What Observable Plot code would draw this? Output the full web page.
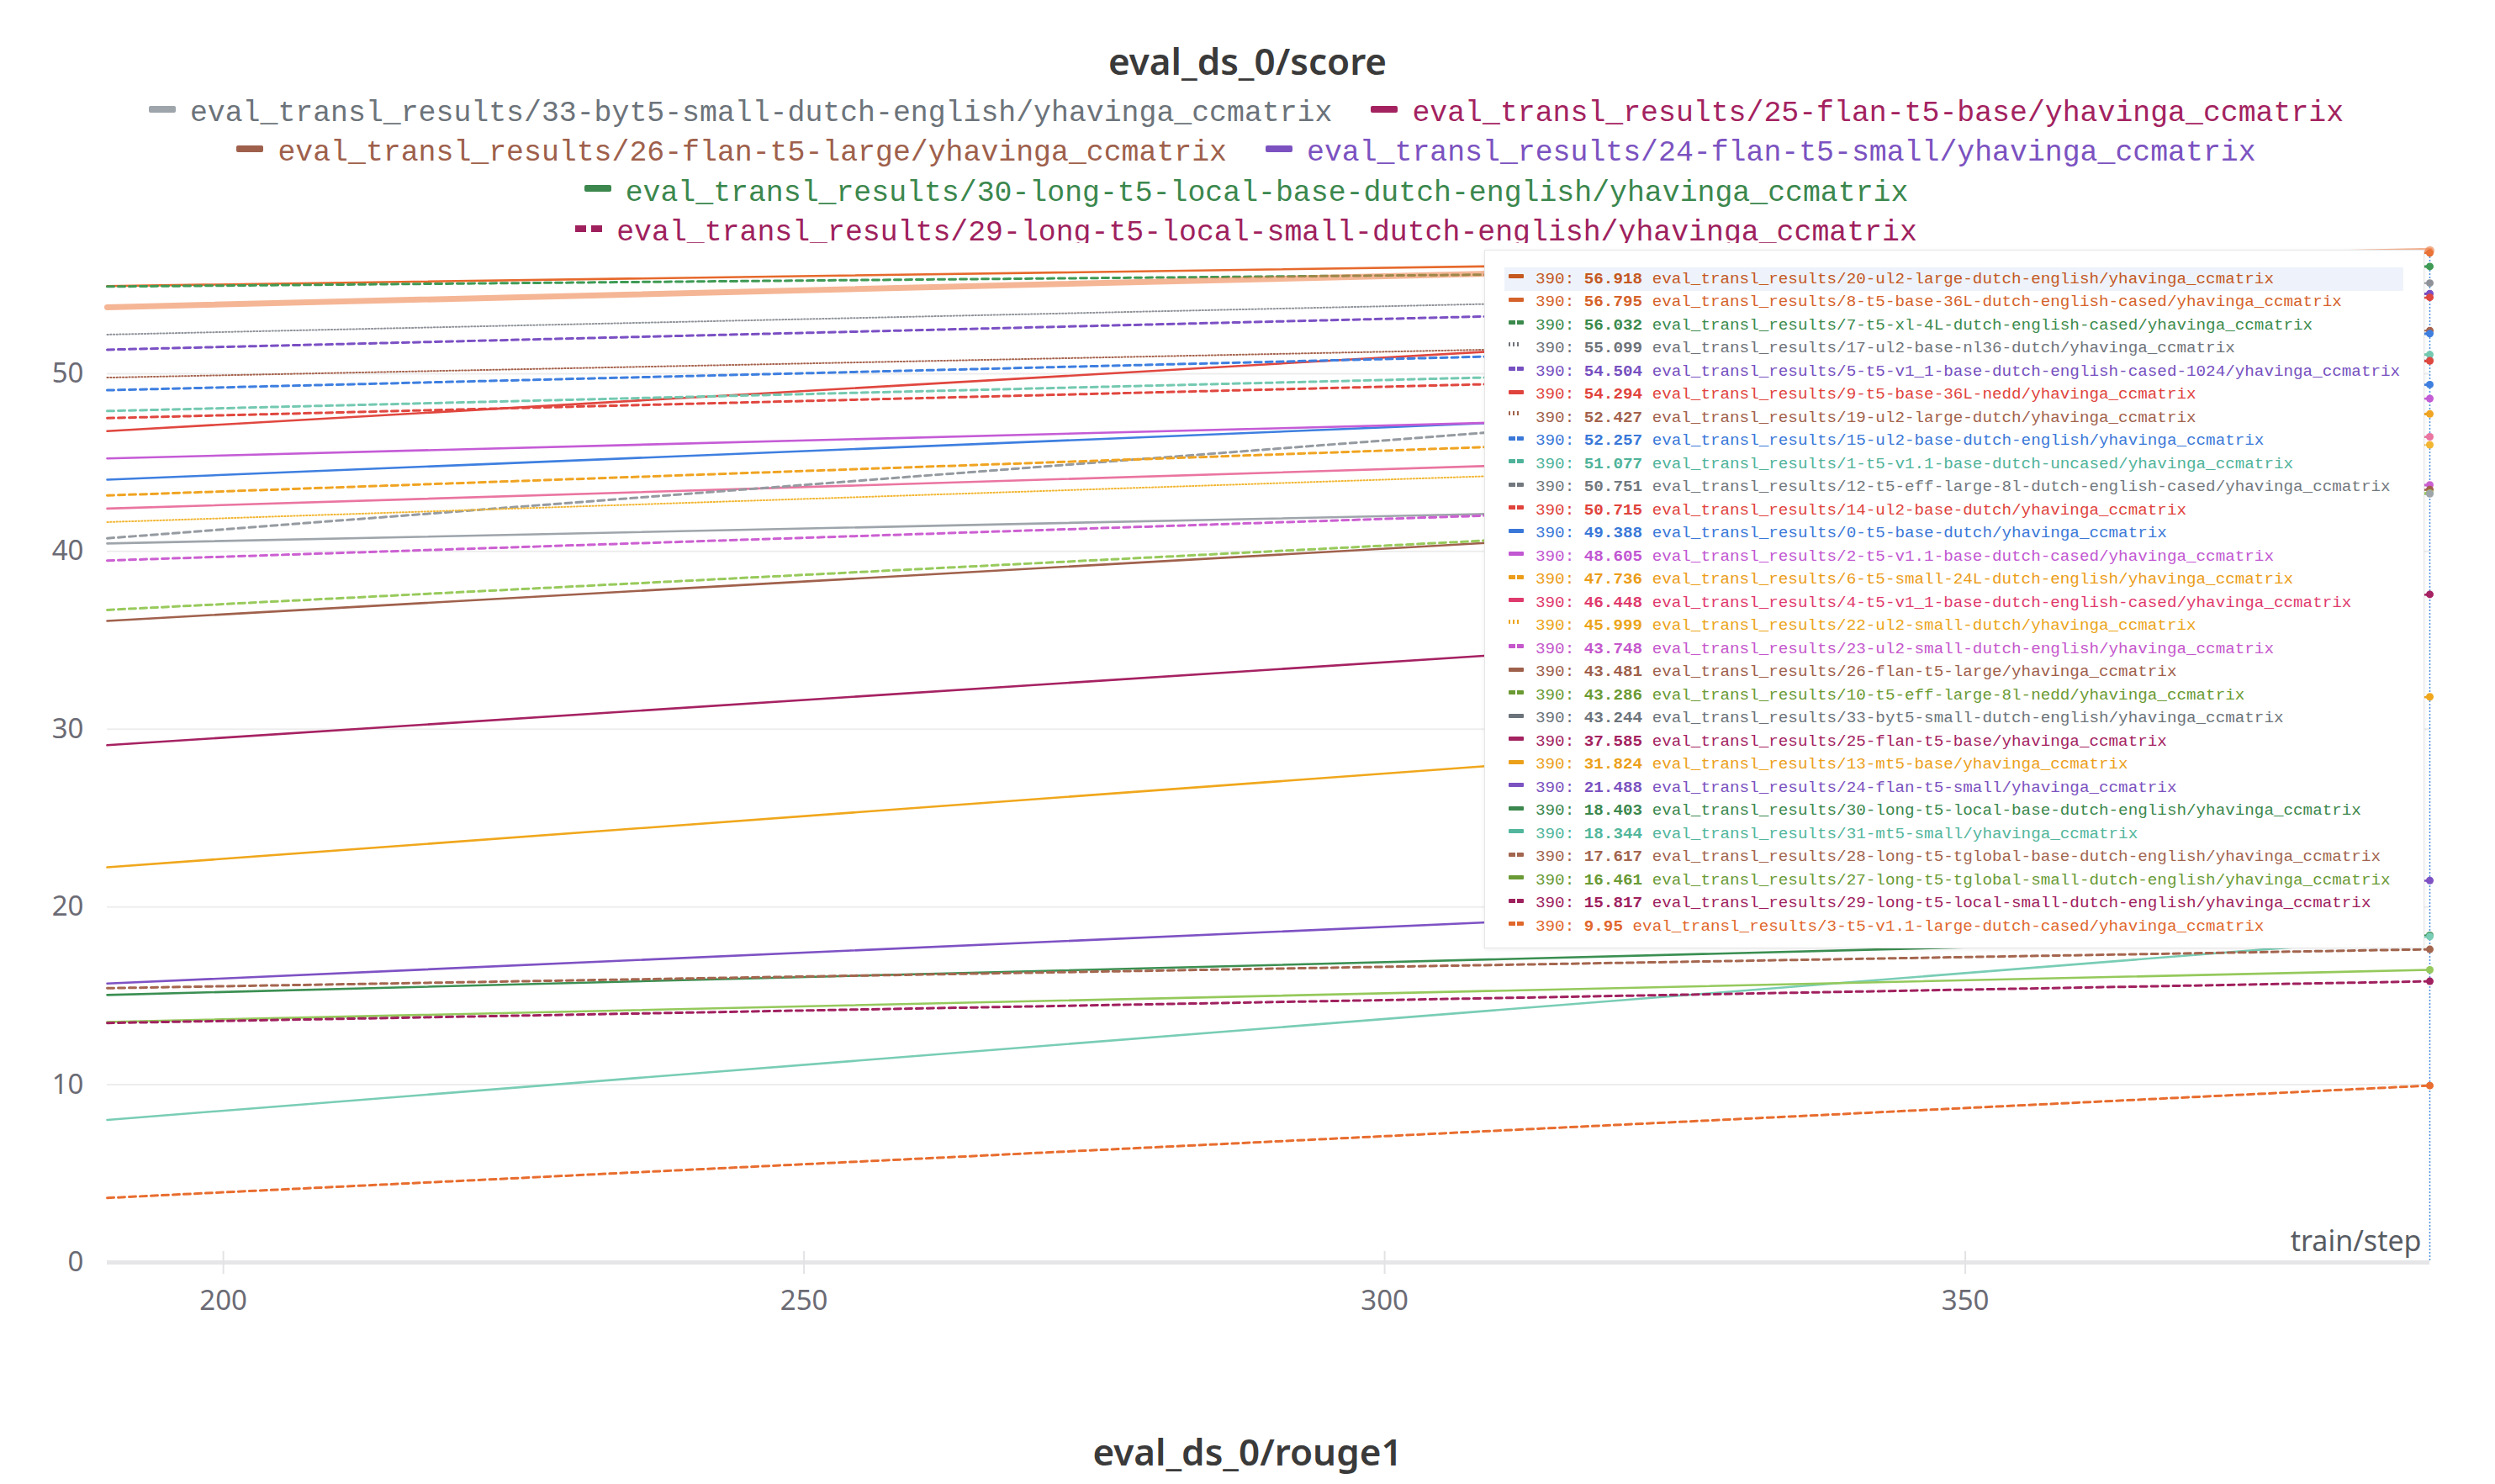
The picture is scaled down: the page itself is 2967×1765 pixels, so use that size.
<!DOCTYPE html>
<html>
<head>
<meta charset="utf-8">
<script src="https://cdn.jsdelivr.net/npm/d3@7"></script>
<script src="https://cdn.jsdelivr.net/npm/@observablehq/plot@0.6"></script>
<style>
html,body{margin:0;padding:0;background:#fff;}
#page{position:relative;width:2967px;height:1765px;overflow:hidden;background:#fff;}
.title{position:absolute;left:0;width:2967px;text-align:center;font-family:"Noto Sans",sans-serif;font-weight:600;font-size:44px;line-height:60px;color:#3a3a3a;}
#legend{position:absolute;left:5px;width:2954px;top:111px;height:178px;overflow:hidden;display:flex;flex-wrap:wrap;justify-content:center;align-content:flex-start;column-gap:46px;font-family:"Liberation Mono",monospace;font-size:34.85px;}
.item{display:flex;align-items:center;height:47.3px;white-space:nowrap;}
.mk{display:inline-block;width:32px;height:8px;border-radius:2px;margin-right:17px;position:relative;top:-5px;}
#chart{position:absolute;left:0;top:289px;}
#tip{position:absolute;left:1765px;top:297px;width:1118px;height:831px;background:#fff;border:1px solid #e6e6e6;box-sizing:border-box;box-shadow:0 1px 5px rgba(0,0,0,.07);font-family:"Liberation Mono",monospace;font-size:19.25px;padding-top:20px;}
.row{height:27.5px;display:flex;align-items:center;white-space:pre;margin-left:23px;margin-right:24px;padding-left:5px;}
.row span,.row b{white-space:pre;}
.row.hi{background:#eef3fb;}
.tm{display:inline-block;width:18px;height:5px;margin-right:14px;position:relative;top:-3px;border-radius:1px;}
.row b{font-weight:700;}
</style>
</head>
<body>
<div id="page">
  <div class="title" id="t1" style="top:42px"></div>
  <div id="legend"></div>
  <div id="chart"></div>
  <div id="tip"></div>
  <div class="title" id="t2" style="top:1696px"></div>
</div>
<script>
// ---------- data ----------
const titleTop = "eval_ds_0/score";
const titleBottom = "eval_ds_0/rouge1";
const prefix = "eval_transl_results/";
const suffix = "/yhavinga_ccmatrix";
const xLabel = "train/step";
const steps = [190, 390];
const hoverStep = 390;
const runs = [
  "20-ul2-large-dutch-english",
  "8-t5-base-36L-dutch-english-cased",
  "7-t5-xl-4L-dutch-english-cased",
  "17-ul2-base-nl36-dutch",
  "5-t5-v1_1-base-dutch-english-cased-1024",
  "9-t5-base-36L-nedd",
  "19-ul2-large-dutch",
  "15-ul2-base-dutch-english",
  "1-t5-v1.1-base-dutch-uncased",
  "12-t5-eff-large-8l-dutch-english-cased",
  "14-ul2-base-dutch",
  "0-t5-base-dutch",
  "2-t5-v1.1-base-dutch-cased",
  "6-t5-small-24L-dutch-english",
  "4-t5-v1_1-base-dutch-english-cased",
  "22-ul2-small-dutch",
  "23-ul2-small-dutch-english",
  "26-flan-t5-large",
  "10-t5-eff-large-8l-nedd",
  "33-byt5-small-dutch-english",
  "25-flan-t5-base",
  "13-mt5-base",
  "24-flan-t5-small",
  "30-long-t5-local-base-dutch-english",
  "31-mt5-small",
  "28-long-t5-tglobal-base-dutch-english",
  "27-long-t5-tglobal-small-dutch-english",
  "29-long-t5-local-small-dutch-english",
  "3-t5-v1.1-large-dutch-cased"
];
// value at the left edge of the view (step 190)
const valuesAtStart = [
  53.74, 54.93, 54.90, 52.20, 51.35, 46.77, 49.78, 49.07, 47.90, 40.74,
  47.50, 44.04, 45.23, 43.15, 42.41, 41.65, 39.49, 36.09, 36.71, 40.45,
  29.10, 22.23, 15.69, 15.05, 8.02, 15.43, 13.53, 13.47, 3.63
];
// value at step 390
const valuesAtEnd = [
  56.918, 56.795, 56.032, 55.099, 54.504, 54.294, 52.427, 52.257, 51.077, 50.751,
  50.715, 49.388, 48.605, 47.736, 46.448, 45.999, 43.748, 43.481, 43.286, 43.244,
  37.585, 31.824, 21.488, 18.403, 18.344, 17.617, 16.461, 15.817, 9.95
];
const highlightRun = "20-ul2-large-dutch-english";
const legendRuns = [
  "33-byt5-small-dutch-english",
  "25-flan-t5-base",
  "26-flan-t5-large",
  "24-flan-t5-small",
  "30-long-t5-local-base-dutch-english",
  "29-long-t5-local-small-dutch-english"
];
const yTicks = [0, 10, 20, 30, 40, 50];
const xTicks = [200, 250, 300, 350];

// ---------- styles (per run) ----------
const styles = {
  "20-ul2-large-dutch-english": {line:"#ec7a40", text:"#c4581f", dash:"solid"},
  "8-t5-base-36L-dutch-english-cased": {line:"#e6692c", text:"#d5622a", dash:"solid"},
  "7-t5-xl-4L-dutch-english-cased": {line:"#3f9a55", text:"#3b8a4c", dash:"dashed"},
  "17-ul2-base-nl36-dutch": {line:"#8f9399", text:"#6f737a", dash:"dotted"},
  "5-t5-v1_1-base-dutch-english-cased-1024": {line:"#7b50c4", text:"#7650c0", dash:"dashed"},
  "9-t5-base-36L-nedd": {line:"#e0473f", text:"#e0433c", dash:"solid"},
  "19-ul2-large-dutch": {line:"#a6634d", text:"#a2624c", dash:"dotted"},
  "15-ul2-base-dutch-english": {line:"#3e7fe0", text:"#3a78d8", dash:"dashed"},
  "1-t5-v1.1-base-dutch-uncased": {line:"#74c9b1", text:"#4fb39a", dash:"dashed"},
  "12-t5-eff-large-8l-dutch-english-cased": {line:"#959ba1", text:"#72787e", dash:"dashed"},
  "14-ul2-base-dutch": {line:"#e0473f", text:"#e0433c", dash:"dashed"},
  "0-t5-base-dutch": {line:"#3e7fe0", text:"#3a78d8", dash:"solid"},
  "2-t5-v1.1-base-dutch-cased": {line:"#c55cd6", text:"#c257d2", dash:"solid"},
  "6-t5-small-24L-dutch-english": {line:"#f0a422", text:"#eb9c18", dash:"dashed"},
  "4-t5-v1_1-base-dutch-english-cased": {line:"#ea75a0", text:"#df3a6d", dash:"solid"},
  "22-ul2-small-dutch": {line:"#f2b632", text:"#eba51a", dash:"dotted"},
  "23-ul2-small-dutch-english": {line:"#cc60d2", text:"#c557cc", dash:"dashed"},
  "26-flan-t5-large": {line:"#a0614c", text:"#9e604b", dash:"solid"},
  "10-t5-eff-large-8l-nedd": {line:"#98ca5c", text:"#6b9a33", dash:"dashed"},
  "33-byt5-small-dutch-english": {line:"#9ea5ab", text:"#6c737a", dash:"solid"},
  "25-flan-t5-base": {line:"#a62262", text:"#a3225f", dash:"solid"},
  "13-mt5-base": {line:"#f0a71c", text:"#eba01a", dash:"solid"},
  "24-flan-t5-small": {line:"#7e52c4", text:"#7b52c0", dash:"solid"},
  "30-long-t5-local-base-dutch-english": {line:"#3b8f52", text:"#3b874d", dash:"solid"},
  "31-mt5-small": {line:"#79cdb5", text:"#52b69c", dash:"solid"},
  "28-long-t5-tglobal-base-dutch-english": {line:"#a5664f", text:"#a2654e", dash:"dashed"},
  "27-long-t5-tglobal-small-dutch-english": {line:"#95c95c", text:"#6a9a36", dash:"solid"},
  "29-long-t5-local-small-dutch-english": {line:"#a0215f", text:"#9e215d", dash:"dashed"},
  "3-t5-v1.1-large-dutch-cased": {line:"#e86d2f", text:"#e0672c", dash:"dashed"}
};
const dashArray = {solid: null, dashed: "8,5", dotted: "1.3,2.4"};
const dashWidth = {solid: 2.6, dashed: 3, dotted: 2};

// ---------- build tables ----------
const rows = [];
runs.forEach((run, i) => {
  steps.forEach((s, j) => {
    rows.push({run, step: s, value: j === 0 ? valuesAtStart[i] : valuesAtEnd[i],
               color: styles[run].line, dash: styles[run].dash});
  });
});
const endRows = rows.filter(r => r.step === hoverStep);

// titles
document.getElementById("t1").textContent = titleTop;
document.getElementById("t2").textContent = titleBottom;

// marker backgrounds
function markerBg(color, dash) {
  if (dash === "dashed") {
    return `linear-gradient(to right, ${color} 0 42%, transparent 42% 58%, ${color} 58% 100%)`;
  }
  if (dash === "dotted") {
    return `repeating-linear-gradient(to right, ${color} 0 2.5px, transparent 2.5px 5px)`;
  }
  return color;
}

// top legend
const legend = document.getElementById("legend");
legendRuns.forEach(run => {
  const st = styles[run];
  const item = document.createElement("div");
  item.className = "item";
  const mk = document.createElement("span");
  mk.className = "mk";
  mk.style.background = markerBg(run.startsWith("33") ? st.line : st.text, st.dash);
  if (st.dash !== "solid") mk.style.borderRadius = "0";
  const tx = document.createElement("span");
  tx.textContent = prefix + run + suffix;
  tx.style.color = st.text;
  item.appendChild(mk); item.appendChild(tx);
  legend.appendChild(item);
});

// chart
const lineMarks = ["solid", "dashed", "dotted"].map(d =>
  Plot.line(rows.filter(r => r.dash === d && r.run !== highlightRun), {
    x: "step", y: "value", z: "run", stroke: "color",
    strokeWidth: dashWidth[d], strokeDasharray: dashArray[d] || undefined
  })
);

const chart = Plot.plot({
  width: 2967,
  height: 1351,
  marginLeft: 127,
  marginRight: 78,
  marginTop: 0,
  marginBottom: 139,
  x: {domain: [190, 390], label: null},
  y: {domain: [0, 57.33], label: null},
  color: {type: "identity"},
  style: {background: "transparent", fontFamily: "Noto Sans, sans-serif", color: "#6b6b75", overflow: "visible"},
  marks: [
    Plot.gridY(yTicks.filter(t => t !== 0), {stroke: "#000", strokeOpacity: 0.07, strokeWidth: 2}),
    Plot.ruleY([0], {stroke: "#e6e6e8", strokeWidth: 5}),
    Plot.ruleX(xTicks, {y1: 0, y2: 0, insetTop: -13, insetBottom: -14, stroke: "#e3e3e6", strokeWidth: 2}),
    Plot.axisY(yTicks, {tickSize: 0, tickPadding: 28, fontSize: 33, label: null}),
    Plot.axisX(xTicks, {tickSize: 0, tickPadding: 33, fontSize: 33, label: null}),
    ...lineMarks,
    Plot.line(rows.filter(r => r.run === highlightRun), {
      x: "step", y: "value", z: "run", stroke: "color", strokeWidth: 7, strokeOpacity: 0.55
    }),
    Plot.ruleX([hoverStep], {stroke: "#4a8fe0", strokeWidth: 1.5, strokeDasharray: "2,2", insetTop: 8}),
    Plot.dot(endRows.filter(r => r.run !== highlightRun), {x: "step", y: "value", fill: "color", r: 4.5}),
    Plot.dot(endRows.filter(r => r.run === highlightRun), {x: "step", y: "value", fill: "color", fillOpacity: 0.6, r: 5.5}),
    Plot.text([xLabel], {frameAnchor: "bottom-right", dx: -10, dy: -14, lineAnchor: "bottom", textAnchor: "end", fontSize: 34, fill: "#585c63"})
  ]
});
document.getElementById("chart").appendChild(chart);

// hover tooltip (values at step 390, sorted)
const tip = document.getElementById("tip");
const order = d3.range(runs.length).sort((a, b) => valuesAtEnd[b] - valuesAtEnd[a]);
order.forEach(i => {
  const run = runs[i];
  const st = styles[run];
  const row = document.createElement("div");
  row.className = "row" + (run === highlightRun ? " hi" : "");
  row.style.color = st.text;
  const mk = document.createElement("span");
  mk.className = "tm";
  mk.style.background = markerBg(st.text, st.dash);
  if (st.dash === "dotted") { mk.style.width = "14px"; mk.style.marginRight = "18px"; mk.style.top = "-5px"; }
  const t1 = document.createElement("span");
  t1.textContent = hoverStep + ": ";
  const t2 = document.createElement("b");
  t2.textContent = String(valuesAtEnd[i]);
  const t3 = document.createElement("span");
  t3.textContent = " " + prefix + run + suffix;
  row.appendChild(mk); row.appendChild(t1); row.appendChild(t2); row.appendChild(t3);
  tip.appendChild(row);
});
</script>
</body>
</html>
